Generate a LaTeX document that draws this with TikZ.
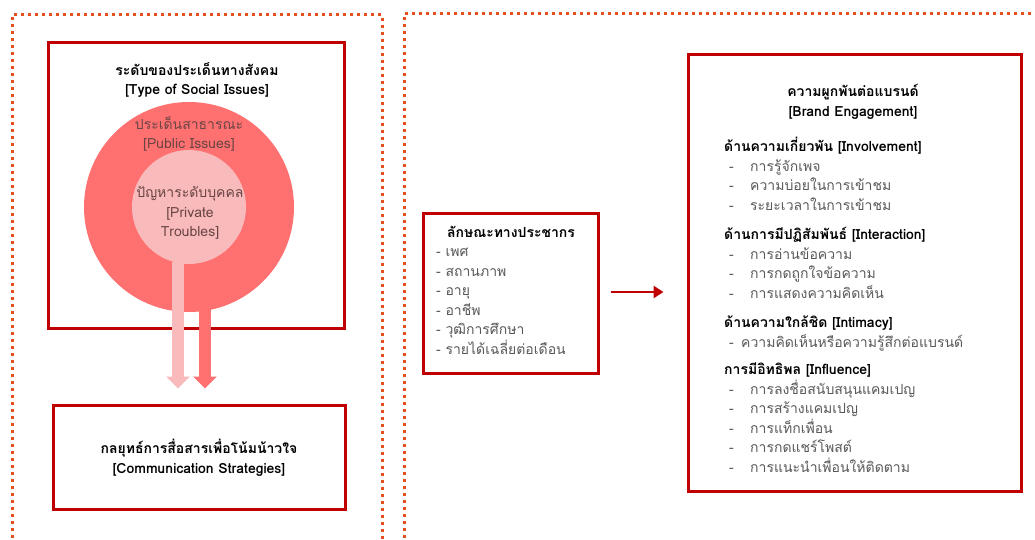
\documentclass[tikz,border=0pt]{standalone}
\usepackage{fontspec}
\usepackage{xcolor}
\usetikzlibrary{positioning, arrows.meta}
\newfontfamily\thaifont[Script=Thai]{Loma}
\definecolor{boxred}{HTML}{C00000}
\definecolor{dotorange}{HTML}{E2501E}
\definecolor{pubred}{HTML}{FF7171}
\definecolor{privpink}{HTML}{F8BABA}
\definecolor{itemgray}{HTML}{595959}
\definecolor{circtext}{HTML}{6A4444}
\newcommand{\itm}[1]{\hspace*{5pt}\makebox[21pt][l]{-}#1}
\tikzset{
  redbox/.style={draw=boxred, line width=3pt, inner sep=0pt},
  dotframe/.style={draw=dotorange, line width=3pt, dash pattern=on 3pt off 4pt},
  head/.style={font=\thaifont\bfseries\fontsize{14}{19.5}\selectfont, align=center, text=black},
  circlabel/.style={font=\thaifont\fontsize{14}{19.5}\selectfont, align=center, text=circtext},
  itemlist/.style={font=\thaifont\fontsize{14}{19.5}\selectfont, align=left, text=itemgray, anchor=north west, inner sep=0pt},
  downarrow/.style={line width=12pt, -{Triangle[length=12pt,width=23pt]}, shorten >=15pt},
  flowarrow/.style={draw=boxred, line width=2.5pt, -{Triangle[length=10pt,width=12pt]}}
}

\begin{document}
\begin{tikzpicture}[x=1pt, y=-1pt]
\useasboundingbox (0,0) rectangle (1035,540);
\fill[white] (0,0) rectangle (1035,540);
% dotted frames
\draw[dotframe] (12,545) -- (12,15) -- (382,15) -- (382,545);
\draw[dotframe] (404,545) -- (404,14) -- (1040,14);

% left side: social issues
\node[redbox, minimum width=296pt, minimum height=285pt] (issues) at (196,185.5) {};
\node[head] (issuestitle) at (197,80) {ระดับของประเด็นทางสังคม\\{[}Type of Social Issues{]}};
\node[circle, fill=pubred, minimum size=210pt, inner sep=0pt] (public) at (189,207) {};
\node[circle, fill=privpink, minimum size=114pt, inner sep=0pt] (private) at (189,207) {};
\node[circlabel] (publictext) at (189,134) {ประเด็นสาธารณะ\\{[}Public Issues{]}};
\node[circlabel] (privatetext) at (190,213) {ปัญหาระดับบุคคล\\{[}Private\\Troubles{]}};

\node[redbox, minimum width=292pt, minimum height=104pt] (strategies) at (199,457) {};
\node[head] (strategiestitle) at (199,458) {กลยุทธ์การสื่อสารเพื่อโน้มน้าวใจ\\{[}Communication Strategies{]}};

\draw[downarrow, privpink] ([xshift=-11pt,yshift=2pt]private.south) -- ([xshift=-21pt]strategies.north);
\draw[downarrow, pubred] ([xshift=16pt,yshift=4pt]public.south) -- ([xshift=6pt]strategies.north);

% middle: demographics
\node[redbox, minimum width=175pt, minimum height=160pt] (demo) at (510.5,293) {};
\node[head] (demotitle) at (511,232) {ลักษณะทางประชากร};
\node[itemlist] (demoitems) at (436,248) {- เพศ\\- สถานภาพ\\- อายุ\\- อาชีพ\\- วุฒิการศึกษา\\- รายได้เฉลี่ยต่อเดือน};

% right: brand engagement
\node[redbox, minimum width=333pt, minimum height=436pt] (engage) at (854.5,273) {};
\node[head] (engagetitle) at (853,102) {ความผูกพันต่อแบรนด์\\{[}Brand Engagement{]}};
\node[itemlist] (engageitems) at (724,137) {%
{\color{black}\bfseries ด้านความเกี่ยวพัน [Involvement]}\\
\itm{การรู้จักเพจ}\\
\itm{ความบ่อยในการเข้าชม}\\
\itm{ระยะเวลาในการเข้าชม}\\[10pt]
{\color{black}\bfseries ด้านการมีปฏิสัมพันธ์ [Interaction]}\\
\itm{การอ่านข้อความ}\\
\itm{การกดถูกใจข้อความ}\\
\itm{การแสดงความคิดเห็น}\\[10pt]
{\color{black}\bfseries ด้านความใกล้ชิด [Intimacy]}\\
\hspace*{5pt}\makebox[12pt][l]{-}ความคิดเห็นหรือความรู้สึกต่อแบรนด์\\[8pt]
{\color{black}\bfseries การมีอิทธิพล [Influence]}\\
\itm{การลงชื่อสนับสนุนแคมเปญ}\\
\itm{การสร้างแคมเปญ}\\
\itm{การแท็กเพื่อน}\\
\itm{การกดแชร์โพสต์}\\
\itm{การแนะนำเพื่อนให้ติดตาม}};

\draw[flowarrow, shorten <=11pt, shorten >=23pt] ([yshift=1pt]demo.east) -- ([yshift=1pt]demo.east -| engage.west);
\end{tikzpicture}
\end{document}
